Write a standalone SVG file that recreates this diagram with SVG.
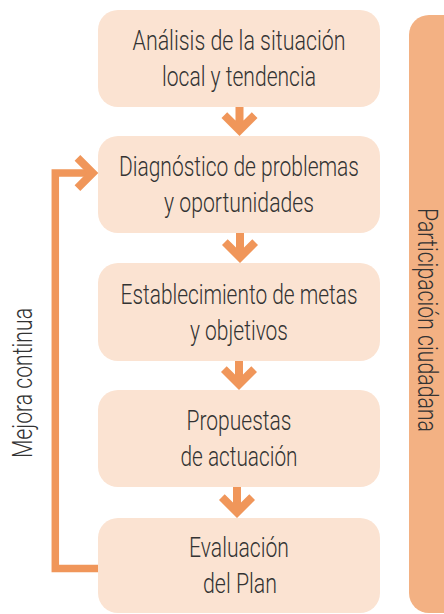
<svg xmlns="http://www.w3.org/2000/svg" width="444" height="614" viewBox="0 0 444 614">
<style>
.box{fill:#FBE3D2}
.t{font-family:Roboto,"Liberation Sans",sans-serif;font-weight:300;font-size:27px;fill:#333333;text-anchor:middle}
.arr{fill:#F0965A}
.line{fill:none;stroke:#F0965A;stroke-width:7.5;stroke-linejoin:miter;stroke-linecap:butt}
</style>
<rect id="bar" x="409" y="15" width="70" height="598" rx="20" fill="#F3B183"/>
<g id="n1"><rect class="box" x="98" y="10" width="282" height="97" rx="20"/>
<text class="t" x="239" y="50" textLength="213" lengthAdjust="spacingAndGlyphs">Análisis de la situación</text>
<text class="t" x="239" y="86" textLength="154" lengthAdjust="spacingAndGlyphs">local y tendencia</text></g>
<g id="n2"><rect class="box" x="98" y="136" width="282" height="97" rx="20"/>
<text class="t" x="239" y="176" textLength="240" lengthAdjust="spacingAndGlyphs">Diagnóstico de problemas</text>
<text class="t" x="239" y="212" textLength="150" lengthAdjust="spacingAndGlyphs">y oportunidades</text></g>
<g id="n3"><rect class="box" x="98" y="263" width="282" height="98" rx="20"/>
<text class="t" x="239" y="303.5" textLength="237" lengthAdjust="spacingAndGlyphs">Establecimiento de metas</text>
<text class="t" x="239" y="339.5" textLength="98" lengthAdjust="spacingAndGlyphs">y objetivos</text></g>
<g id="n4"><rect class="box" x="98" y="390" width="282" height="97" rx="20"/>
<text class="t" x="239" y="430" textLength="105" lengthAdjust="spacingAndGlyphs">Propuestas</text>
<text class="t" x="239" y="466" textLength="117" lengthAdjust="spacingAndGlyphs">de actuación</text></g>
<g id="n5"><rect class="box" x="98" y="518" width="282" height="95" rx="20"/>
<text class="t" x="239" y="557" textLength="100" lengthAdjust="spacingAndGlyphs">Evaluación</text>
<text class="t" x="240" y="593" textLength="74" lengthAdjust="spacingAndGlyphs">del Plan</text></g>
<text id="participacion" class="t" transform="translate(418,320) rotate(90)" x="0" y="0" textLength="224" lengthAdjust="spacingAndGlyphs">Participación ciudadana</text>
<text id="mejora" class="t" transform="translate(32,383) rotate(-90)" x="0" y="0" textLength="150" lengthAdjust="spacingAndGlyphs">Mejora continua</text>
<g id="connectors">
<polygon class="arr" points="235.5,107 243.5,107 243.5,120.6 251.8,112.3 257.5,118 239.5,136 221.5,118 227.2,112.3 235.5,120.6"/>
<polygon class="arr" points="236,233 244,233 244,247.6 252.3,239.3 258,245 240,263 222,245 227.7,239.3 236,247.6"/>
<polygon class="arr" points="235,361 243,361 243,374.6 251.3,366.3 257,372 239,390 221,372 226.7,366.3 235,374.6"/>
<polygon class="arr" points="233,487 241,487 241,502.6 249.3,494.3 255,500 237,518 219,500 224.7,494.3 233,502.6"/>
<polyline class="line" points="98,568.5 55.3,568.5 55.3,173 94,173"/>
<polygon class="arr" points="98.3,173 80.3,191 74.6,185.3 86.9,173 74.6,160.7 80.3,155"/>
</g>
</svg>
